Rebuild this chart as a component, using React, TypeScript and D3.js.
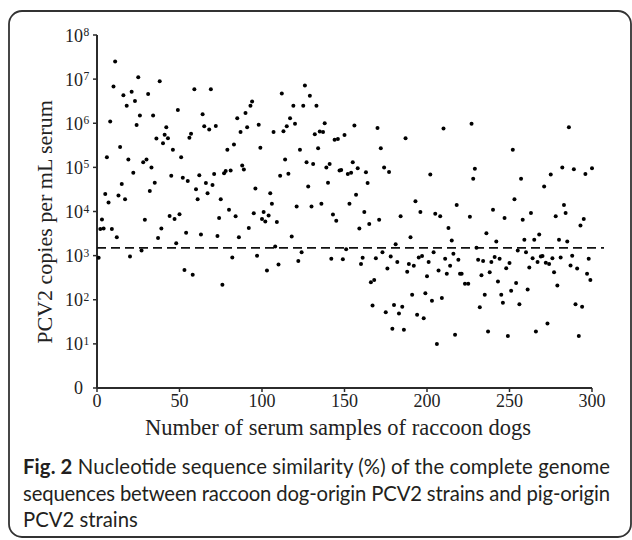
import React from "react";
import * as d3 from "d3";

// [sample number, PCV2 copies per mL serum]
const pcv2Samples: [number, number][] = [
  [11, 2.5e7], [10, 6.8e6], [25, 1.1e7], [38, 8.9e6], [16, 4.3e6], [21, 5.2e6], [31, 4.6e6], [18, 2.5e6],
  [23, 3.2e6], [8, 1.1e6], [26, 1.5e6], [34, 1.5e6], [49, 2.0e6], [24, 9.1e5], [42, 8.1e5], [36, 4.5e5],
  [41, 5.5e5], [43, 4.6e5], [40, 3.5e5], [14, 2.9e5], [46, 2.5e5], [6, 1.7e5], [19, 1.5e5], [51, 1.7e5],
  [28, 1.3e5], [30, 1.5e5], [33, 1.0e5], [22, 7.6e4], [45, 6.5e4], [52, 5.8e4], [15, 4.2e4], [35, 4.5e4],
  [5, 2.5e4], [32, 2.9e4], [13, 2.3e4], [17, 1.9e4], [7, 1.6e4], [3, 6.6e3], [29, 6.5e3], [44, 7.9e3],
  [47, 6.8e3], [50, 8.7e3], [2, 4.0e3], [4, 4.1e3], [9, 4.0e3], [12, 2.6e3], [39, 4.1e3], [37, 2.5e3],
  [48, 1.9e3], [1, 890], [20, 950], [27, 1.3e3],

  [59, 5.9e6], [69, 5.9e6], [64, 1.6e6], [94, 3.1e6], [93, 2.5e6], [90, 1.7e6], [85, 1.3e6], [65, 8.5e5],
  [68, 7.2e5], [72, 8.7e5], [57, 5.8e5], [56, 4.7e5], [91, 8.1e5], [87, 6.3e5], [98, 9.3e5], [79, 2.5e5],
  [83, 3.3e5], [99, 2.8e5], [88, 1.1e5], [89, 8.9e4], [55, 4.9e4], [62, 6.6e4], [71, 7.1e4], [66, 4.4e4],
  [70, 4.0e4], [78, 8.3e4], [77, 7.4e4], [81, 8.5e4], [60, 3.2e4], [67, 2.6e4], [61, 1.9e4], [75, 1.9e4],
  [96, 3.3e4], [80, 1.1e4], [74, 7.1e3], [84, 7.8e3], [95, 9.1e3], [101, 9.8e3], [100, 6.8e3], [102, 5.9e3],
  [54, 3.3e3], [63, 3.0e3], [73, 2.8e3], [86, 2.6e3], [92, 4.2e3], [82, 910], [97, 1.0e3], [53, 470],
  [58, 370], [76, 220], [103, 460],

  [126, 7.2e6], [112, 4.7e6], [129, 4.2e6], [119, 2.5e6], [125, 2.5e6], [133, 2.5e6], [117, 1.3e6], [120, 9.8e5],
  [115, 8.5e5], [138, 1.0e6], [113, 6.6e5], [107, 6.3e5], [132, 5.6e5], [135, 6.5e5], [137, 6.3e5], [150, 5.4e5],
  [146, 4.4e5], [144, 4.2e5], [123, 2.5e5], [134, 2.7e5], [114, 1.5e5], [127, 1.3e5], [131, 1.2e5], [141, 1.2e5],
  [139, 1.0e5], [111, 6.5e4], [116, 7.2e4], [148, 8.7e4], [147, 8.5e4], [152, 7.1e4], [128, 3.7e4], [140, 4.5e4],
  [105, 2.6e4], [106, 1.5e4], [121, 1.3e4], [130, 1.3e4], [136, 1.5e4], [153, 1.5e4], [104, 8.1e3], [109, 5.8e3],
  [143, 8.5e3], [145, 6.2e3], [118, 2.7e3], [108, 1.6e3], [124, 1.2e3], [151, 1.4e3], [110, 630], [122, 760],
  [142, 850], [149, 830],

  [156, 8.9e5], [170, 7.8e5], [172, 2.7e5], [187, 4.6e5], [155, 1.3e5], [158, 9.5e4], [154, 7.6e4], [163, 7.8e4],
  [164, 4.4e4], [174, 1.0e5], [177, 7.9e4], [202, 6.9e4], [157, 2.4e4], [162, 9.8e3], [159, 4.1e3], [165, 5.2e3],
  [171, 6.5e3], [184, 7.8e3], [193, 1.7e4], [196, 9.8e3], [190, 2.6e3], [181, 1.8e3], [173, 1.2e3], [161, 890],
  [160, 650], [169, 870], [178, 950], [182, 720], [176, 510], [189, 650], [192, 590], [195, 910],
  [197, 980], [201, 720], [188, 430], [200, 340], [166, 250], [168, 280], [191, 130], [199, 140],
  [203, 95], [167, 74], [175, 52], [180, 76], [183, 49], [185, 69], [194, 46], [198, 38],
  [179, 22], [186, 21],

  [210, 7.6e5], [227, 9.8e5], [252, 2.5e5], [229, 9.3e4], [228, 5.5e4], [218, 1.4e4], [205, 8.9e3], [208, 7.8e3],
  [226, 7.6e3], [240, 1.1e4], [247, 7.1e3], [253, 1.9e4], [213, 4.2e3], [215, 2.2e3], [236, 3.2e3], [242, 2.1e3],
  [204, 1.2e3], [211, 850], [216, 1.1e3], [219, 810], [214, 590], [207, 460], [212, 390], [230, 1.5e3],
  [231, 810], [234, 760], [239, 720], [241, 930], [244, 850], [250, 680], [248, 520], [220, 390],
  [221, 390], [223, 230], [225, 230], [233, 360], [238, 420], [243, 260], [209, 110], [235, 130],
  [245, 130], [246, 85], [251, 160], [232, 68], [217, 16], [237, 19], [249, 15], [206, 10],

  [286, 8.1e5], [257, 5.5e4], [275, 6.9e4], [271, 3.7e4], [282, 1.0e5], [289, 9.1e4], [296, 7.1e4], [300, 9.5e4],
  [258, 6.5e3], [263, 9.3e3], [278, 7.8e3], [283, 1.4e4], [284, 9.3e3], [295, 6.8e3], [293, 4.8e3], [259, 2.3e3],
  [265, 2.3e3], [268, 3.0e3], [280, 2.3e3], [285, 2.1e3], [255, 1.3e3], [260, 1.2e3], [264, 870], [269, 950],
  [270, 980], [276, 870], [281, 910], [288, 1.0e3], [298, 850], [262, 540], [267, 720], [272, 690],
  [274, 650], [277, 420], [287, 600], [291, 510], [297, 390], [299, 280], [254, 240], [261, 170],
  [279, 210], [256, 79], [290, 79], [294, 69], [266, 19], [273, 29], [292, 15],
];

const cutoff = 1500;
const xTicks = [0, 50, 100, 150, 200, 250, 300];
const yTickExponents = [0, 1, 2, 3, 4, 5, 6, 7, 8];

const captionLines = [
  "Nucleotide sequence similarity (%) of the complete genome",
  "sequences between raccoon dog-origin PCV2 strains and pig-origin",
  "PCV2 strains",
];

function App() {
  const width = 632;
  const height = 540;
  const axisColor = "#2b2b2b";
  const serif = "'Liberation Serif', 'Times New Roman', serif";
  const sans = "Lato, 'Liberation Sans', sans-serif";

  const x = d3.scaleLinear().domain([0, 300]).range([97, 592]);
  const y = d3.scaleLog().domain([1, 1e8]).range([388, 35]);

  return (
    <svg
      width={width}
      height={height}
      style={{ position: "absolute", left: 0, top: 0, background: "#fff" }}
    >
      <rect x={9} y={11} width={622} height={526} rx={13} fill="none" stroke="#333" strokeWidth={1.8} />

      {/* y axis */}
      <line x1={x(0)} y1={y(1e8)} x2={x(0)} y2={y(1)} stroke={axisColor} strokeWidth={2} />
      {yTickExponents.map((e) => {
        const ty = y(Math.pow(10, e));
        return (
          <g key={e} fontFamily={serif} fill="#222">
            <line x1={x(0) - 4} y1={ty} x2={x(0)} y2={ty} stroke={axisColor} strokeWidth={1.5} />
            {e === 0 ? (
              <text x={83} y={ty + 6} fontSize={18} textAnchor="end">0</text>
            ) : (
              <>
                <text x={83} y={ty + 6.5} fontSize={18} textAnchor="end">10</text>
                <text x={83.5} y={ty + 1} fontSize={11.5}>{e}</text>
              </>
            )}
          </g>
        );
      })}
      <text
        transform="translate(52, 222) rotate(-90)"
        textAnchor="middle"
        fontFamily={serif}
        fontSize={22}
        fill="#222"
      >
        PCV2 copies per mL serum
      </text>

      {/* x axis */}
      <line x1={x(0)} y1={y(1)} x2={x(300)} y2={y(1)} stroke={axisColor} strokeWidth={2} />
      {xTicks.map((t) => (
        <g key={t}>
          <line x1={x(t)} y1={y(1)} x2={x(t)} y2={y(1) + 4} stroke={axisColor} strokeWidth={1.5} />
          <text x={x(t)} y={407} fontSize={18} textAnchor="middle" fontFamily={serif} fill="#222">
            {t}
          </text>
        </g>
      ))}
      <text x={338} y={435} textAnchor="middle" fontFamily={serif} fontSize={22.5} fill="#222">
        Number of serum samples of raccoon dogs
      </text>

      {/* detection cutoff */}
      <line
        x1={x(0)}
        y1={y(cutoff)}
        x2={604}
        y2={y(cutoff)}
        stroke="#111"
        strokeWidth={1.8}
        strokeDasharray="9,5"
      />

      {/* samples */}
      <g fill="#000">
        {pcv2Samples.map(([n, v], i) => (
          <circle key={i} cx={x(n)} cy={y(v)} r={2} />
        ))}
      </g>

      {/* caption */}
      <g fontFamily={sans} fontSize={20.3} fill="#231f20">
        <text x={23} y={474} textLength={587} lengthAdjust="spacing">
          <tspan fontWeight="bold">Fig. 2</tspan> {captionLines[0]}
        </text>
        <text x={23} y={501} textLength={587} lengthAdjust="spacing">
          {captionLines[1]}
        </text>
        <text x={23} y={527}>{captionLines[2]}</text>
      </g>
    </svg>
  );
}

export default App;
